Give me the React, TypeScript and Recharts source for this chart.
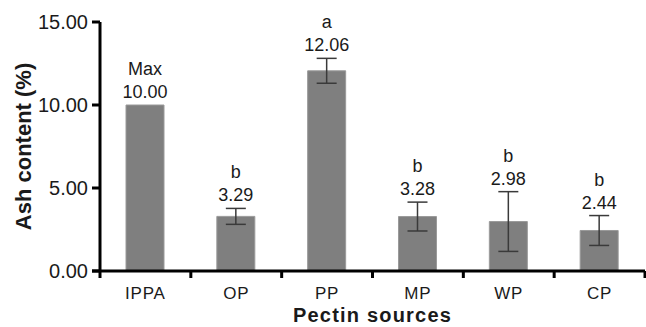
import React from 'react';
import { BarChart, Bar, XAxis, YAxis, ErrorBar, LabelList, Label } from 'recharts';

const categories = ['IPPA', 'OP', 'PP', 'MP', 'WP', 'CP'];
const ashValues = [10.0, 3.29, 12.06, 3.28, 2.98, 2.44];
const ashErrors: (number | null)[] = [null, 0.48, 0.75, 0.87, 1.8, 0.9];
const letters = ['Max', 'b', 'a', 'b', 'b', 'b'];
const yTicks = [0, 5, 10, 15];

const data = categories.map((name, i) => ({
    name,
    ash: ashValues[i],
    err: ashErrors[i],
    letter: letters[i],
}));

const FONT = '"Liberation Sans", Arial, sans-serif';
const TEXT = '#1a1a1a';

const XTick = (props: any) => {
    const { x, y, payload, index, width } = props;
    const band = (width || 545) / categories.length;
    const right = x + band / 2;
    const left = x - band / 2;
    return (
        <g>
            {index === 0 && (
                <>
                    <line x1={left} y1={y} x2={left} y2={y + 7} stroke="#000" strokeWidth={3} />
                    <line x1={left - 8} y1={y} x2={left} y2={y} stroke="#000" strokeWidth={3} />
                </>
            )}
            <line x1={right} y1={y} x2={right} y2={y + 7} stroke="#000" strokeWidth={3} />
            <text x={x} y={y + 22} textAnchor="middle" dominantBaseline="central"
                fontFamily={FONT} fontSize={17} fill={TEXT} letterSpacing={0.8}>
                {payload.value}
            </text>
        </g>
    );
};

const TopLabel = (props: any) => {
    const { x, y, width, height, value, index } = props;
    const err = ashErrors[index] ?? 0;
    const perUnit = value ? height / value : 0;
    const top = y - err * perUnit;
    const cx = x + width / 2;
    return (
        <g fontFamily={FONT} fontSize={18} fill={TEXT} textAnchor="middle">
            <text x={cx} y={top - 36} dominantBaseline="central">{letters[index]}</text>
            <text x={cx} y={top - 13} dominantBaseline="central">{Number(value).toFixed(2)}</text>
        </g>
    );
};

export default function App() {
    return (
        <div style={{ position: 'absolute', left: 0, top: 0, background: '#fff' }}>
            <BarChart width={646} height={327} data={data}
                margin={{ top: 22, right: 1, left: 0, bottom: 0 }}>
                <XAxis dataKey="name" height={56} tick={<XTick />} tickLine={false}
                    tickSize={0} tickMargin={0} axisLine={{ stroke: '#000', strokeWidth: 3 }}>
                    <Label value="Pectin sources" position="center" dy={16}
                        style={{ fontFamily: FONT, fontSize: 20, fontWeight: 'bold', fill: TEXT, letterSpacing: 1.2 }} />
                </XAxis>
                <YAxis width={100} domain={[0, 15]} ticks={yTicks} interval={0}
                    tickFormatter={(v: number) => v.toFixed(2)}
                    tick={{ fontFamily: FONT, fontSize: 20, fill: TEXT }}
                    tickSize={8} tickMargin={4}
                    tickLine={{ stroke: '#000', strokeWidth: 3 }}
                    axisLine={{ stroke: '#000', strokeWidth: 3 }}>
                    <Label value="Ash content (%)" angle={-90} position="center" dx={-27}
                        style={{ fontFamily: FONT, fontSize: 22, fontWeight: 'bold', fill: TEXT }} />
                </YAxis>
                <Bar dataKey="ash" barSize={38} fill="#7f7f7f" stroke="#9a9a9a" strokeWidth={1}
                    isAnimationActive={false}>
                    <ErrorBar dataKey="err" width={10} stroke="#3a3a3a" strokeWidth={1.5} />
                    <LabelList dataKey="ash" content={<TopLabel />} />
                </Bar>
            </BarChart>
        </div>
    );
}
